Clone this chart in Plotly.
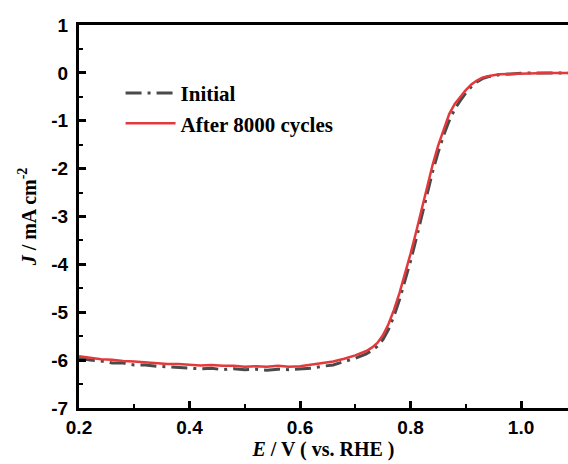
import plotly.graph_objects as go

# Potential (V vs. RHE)
E = [0.20, 0.22, 0.24, 0.26, 0.28, 0.30, 0.32, 0.34, 0.36, 0.38,
     0.40, 0.42, 0.44, 0.46, 0.48, 0.50, 0.52, 0.54, 0.56, 0.58,
     0.60, 0.62, 0.64, 0.66, 0.68, 0.70, 0.72, 0.73, 0.74, 0.75,
     0.76, 0.77, 0.78, 0.79, 0.80, 0.81, 0.82, 0.83, 0.84, 0.85,
     0.86, 0.87, 0.88, 0.89, 0.90, 0.91, 0.92, 0.93, 0.94, 0.96,
     0.98, 1.00, 1.02, 1.05, 1.08, 1.10]

J_initial = [-5.96, -6.00, -6.02, -6.06, -6.06, -6.10, -6.10, -6.13, -6.14, -6.16,
             -6.17, -6.18, -6.17, -6.20, -6.18, -6.20, -6.19, -6.21, -6.19, -6.20,
             -6.18, -6.17, -6.13, -6.10, -6.03, -5.96, -5.87, -5.80, -5.71, -5.57,
             -5.36, -5.08, -4.74, -4.35, -3.93, -3.48, -3.00, -2.52, -2.06, -1.66,
             -1.30, -1.00, -0.76, -0.58, -0.42, -0.29, -0.19, -0.12, -0.08, -0.04,
             -0.02, -0.01, 0.00, 0.00, 0.00, 0.00]

J_after = [-5.92, -5.95, -5.98, -5.99, -6.02, -6.03, -6.05, -6.06, -6.08, -6.08,
           -6.10, -6.11, -6.10, -6.12, -6.12, -6.14, -6.13, -6.14, -6.12, -6.14,
           -6.13, -6.10, -6.07, -6.03, -5.97, -5.90, -5.81, -5.74, -5.64, -5.48,
           -5.25, -4.95, -4.60, -4.20, -3.78, -3.33, -2.85, -2.37, -1.92, -1.52,
           -1.18, -0.86, -0.65, -0.50, -0.36, -0.24, -0.16, -0.10, -0.07, -0.03,
           -0.02, -0.01, 0.00, 0.00, 0.00, 0.00]

x_ticks = [0.2, 0.4, 0.6, 0.8, 1.0]
x_ticktext = ["0.2", "0.4", "0.6", "0.8", "1.0"]
y_ticks = [1, 0, -1, -2, -3, -4, -5, -6, -7]
y_ticktext = ["1", "0", "-1", "-2", "-3", "-4", "-5", "-6", "-7"]

tick_font = dict(family="Liberation Sans, Arial", size=19, color="black", weight="bold")
serif_font = dict(family="Liberation Serif, Times New Roman", size=20, color="black", weight="bold")
legend_font = dict(family="Liberation Serif, Times New Roman", size=21, color="black", weight="bold")

fig = go.Figure()
fig.add_trace(go.Scatter(x=E, y=J_initial, mode="lines", name="Initial",
                         line=dict(color="#4a4a4a", width=3, dash="16px,6px,3px,6px")))
fig.add_trace(go.Scatter(x=E, y=J_after, mode="lines", name="After 8000 cycles",
                         line=dict(color="#e3393b", width=2.5)))

fig.update_layout(
    width=568, height=464,
    margin=dict(l=79, r=0, t=25, b=56),
    paper_bgcolor="white", plot_bgcolor="white",
    showlegend=True,
    legend=dict(x=0.085, y=0.875, xanchor="left", yanchor="top",
                font=legend_font, bgcolor="rgba(0,0,0,0)",
                itemwidth=50, tracegroupgap=0),
)
fig.update_xaxes(
    range=[0.2, 1.085], showgrid=False, zeroline=False,
    showline=True, linecolor="black", linewidth=3, mirror=True,
    ticks="inside", ticklen=7, tickwidth=2.5, tickcolor="black",
    tickvals=x_ticks, ticktext=x_ticktext, tickfont=tick_font,
    minor=dict(ticks="inside", ticklen=4, tickwidth=2, tickcolor="black", dtick=0.1, tick0=0.2),
    title=dict(text="<i>E</i> / V ( vs. RHE )", font=serif_font, standoff=4),
)
fig.update_yaxes(
    range=[-7, 1], showgrid=False, zeroline=False,
    showline=True, linecolor="black", linewidth=3, mirror=False,
    ticks="inside", ticklen=7, tickwidth=2.5, tickcolor="black",
    tickvals=y_ticks, ticktext=y_ticktext, tickfont=tick_font,
    ticklabelstandoff=4,
    minor=dict(ticks="inside", ticklen=4, tickwidth=2, tickcolor="black", dtick=0.5, tick0=0),
    title=dict(text="<i>J</i> / mA cm<sup>-2</sup>", font=serif_font, standoff=10),
)

fig.write_html("out.html", config={"displayModeBar": False})

# remove the browser's default body margin so the figure sits at the page's corner
with open("out.html", "r", encoding="utf-8") as f:
    html = f.read()
html = html.replace("<head>", "<head><style>html,body{margin:0;padding:0;overflow:hidden;}</style>", 1)
with open("out.html", "w", encoding="utf-8") as f:
    f.write(html)
